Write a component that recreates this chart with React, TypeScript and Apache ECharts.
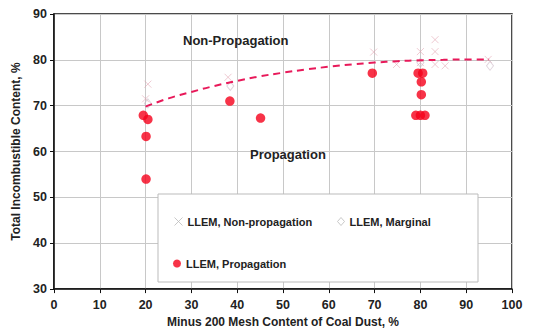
import React, { useEffect, useRef } from "react";
import * as echarts from "echarts";

const xTicks = [0, 10, 20, 30, 40, 50, 60, 70, 80, 90, 100];
const yTicks = [30, 40, 50, 60, 70, 80, 90];

const propX = [19.5, 20.5, 20.1, 20.1, 38.4, 45.1, 69.5, 79.5, 80.5, 80.2, 80.2, 79.0, 80.0, 81.0];
const propY = [67.9, 67.0, 63.3, 54.0, 71.0, 67.3, 77.1, 77.1, 77.1, 75.2, 72.4, 67.9, 67.9, 67.9];

const nonPropX = [20.0, 20.5, 38.0, 69.8, 80.0, 83.2, 83.2, 83.2, 74.8, 85.4, 94.8, 80.0];
const nonPropY = [71.5, 74.7, 76.2, 81.7, 81.8, 84.4, 81.8, 79.0, 79.0, 78.7, 80.1, 79.4];

const marginalX = [20.5, 38.5, 95.2, 80.0];
const marginalY = [70.5, 74.3, 78.7, 79.4];

const curveX = [20, 25, 30, 35, 40, 45, 50, 55, 60, 65, 70, 75, 80, 85, 90, 95];
const curveY = [69.8, 71.6, 73.0, 74.3, 75.4, 76.4, 77.2, 77.9, 78.5, 79.0, 79.4, 79.7, 79.9, 80.0, 80.1, 80.1];

const zip = (a: number[], b: number[]) => a.map((v, i) => [v, b[i]]);

const FONT = "Liberation Sans, Arial, sans-serif";
const CROSS = "path://M0,0L10,10M10,0L0,10";

export default function App() {
  const ref = useRef<HTMLDivElement>(null);
  useEffect(() => {
    const chart = echarts.init(ref.current!, null, { renderer: "svg" });
    const legendText = { fontFamily: FONT, fontWeight: "bold", fontSize: 11, color: "#222" };
    chart.setOption({
      animation: false,
      backgroundColor: "#fff",
      grid: { left: 54, right: 22, top: 14, bottom: 41, show: true, borderColor: "#111", borderWidth: 1.5 },
      xAxis: {
        type: "value",
        min: 0,
        max: 100,
        interval: 10,
        name: "Minus 200 Mesh Content of Coal Dust, %",
        nameLocation: "middle",
        nameGap: 22,
        nameTextStyle: { fontFamily: FONT, fontWeight: "bold", fontSize: 12, color: "#222" },
        axisLine: { lineStyle: { color: "#111", width: 1.5 } },
        axisTick: { show: true, length: 4, lineStyle: { color: "#111" } },
        axisLabel: { fontFamily: FONT, fontWeight: "bold", fontSize: 12.5, color: "#222", margin: 9 },
        splitLine: { show: true, lineStyle: { color: "#c8c8c8", width: 1 } },
      },
      yAxis: {
        type: "value",
        min: 30,
        max: 90,
        interval: 10,
        name: "Total Incombustible Content, %",
        nameLocation: "middle",
        nameGap: 26,
        nameTextStyle: { fontFamily: FONT, fontWeight: "bold", fontSize: 12, color: "#222" },
        axisLine: { lineStyle: { color: "#111", width: 1.5 } },
        axisTick: { show: true, length: 4, lineStyle: { color: "#111" } },
        axisLabel: { fontFamily: FONT, fontWeight: "bold", fontSize: 12.5, color: "#222", margin: 7 },
        splitLine: { show: true, lineStyle: { color: "#c8c8c8", width: 1 } },
      },
      legend: [
        {
          z: 20, left: 167, top: 210, itemWidth: 8, itemHeight: 8, itemGap: 4,
          data: [{ name: "LLEM, Non-propagation", icon: CROSS, itemStyle: { color: "none", borderColor: "#bbb", borderWidth: 1 } }],
          textStyle: legendText,
        },
        {
          z: 20, left: 330, top: 210, itemWidth: 7, itemHeight: 8,
          data: [{ name: "LLEM, Marginal", icon: "diamond", itemStyle: { color: "none", borderColor: "#bbb", borderWidth: 1 } }],
          textStyle: legendText,
        },
        {
          z: 20, left: 168, top: 253, itemWidth: 8, itemHeight: 8,
          data: [{ name: "LLEM, Propagation", icon: "circle" }],
          textStyle: legendText,
        },
      ],
      graphic: [
        {
          type: "rect",
          shape: { x: 158, y: 194, width: 320, height: 88 },
          style: { fill: "#fff", stroke: "#bbb", lineWidth: 1 },
          z: 5,
        },
        {
          type: "text",
          left: 183, top: 34,
          style: { text: "Non-Propagation", fontFamily: FONT, fontWeight: "bold", fontSize: 13, fill: "#222" },
          z: 10,
        },
        {
          type: "text",
          left: 250, top: 148,
          style: { text: "Propagation", fontFamily: FONT, fontWeight: "bold", fontSize: 13, fill: "#222" },
          z: 10,
        },
      ],
      series: [
        {
          name: "LLEM, Non-propagation",
          type: "scatter",
          symbol: CROSS,
          symbolSize: 7,
          itemStyle: { color: "none", borderColor: "rgba(225,160,175,0.7)", borderWidth: 1 },
          data: zip(nonPropX, nonPropY),
          z: 3,
        },
        {
          name: "LLEM, Marginal",
          type: "scatter",
          symbol: "diamond",
          symbolSize: [7, 9],
          itemStyle: { color: "none", borderColor: "rgba(200,180,195,0.7)", borderWidth: 1 },
          data: zip(marginalX, marginalY),
          z: 3,
        },
        {
          name: "LLEM, Propagation",
          type: "scatter",
          symbol: "circle",
          symbolSize: 9.5,
          itemStyle: { color: "#f5001a" },
          data: zip(propX, propY),
          z: 4,
        },
        {
          name: "fit",
          type: "line",
          smooth: true,
          showSymbol: false,
          symbol: "none",
          lineStyle: { color: "#e8195a", width: 2, type: [7, 5] },
          data: zip(curveX, curveY),
          z: 4,
        },
      ],
    });
    return () => chart.dispose();
  }, []);
  return (
    <div
      ref={ref}
      style={{ position: "fixed", left: 0, top: 0, width: 534, height: 333, background: "#fff" }}
    />
  );
}
